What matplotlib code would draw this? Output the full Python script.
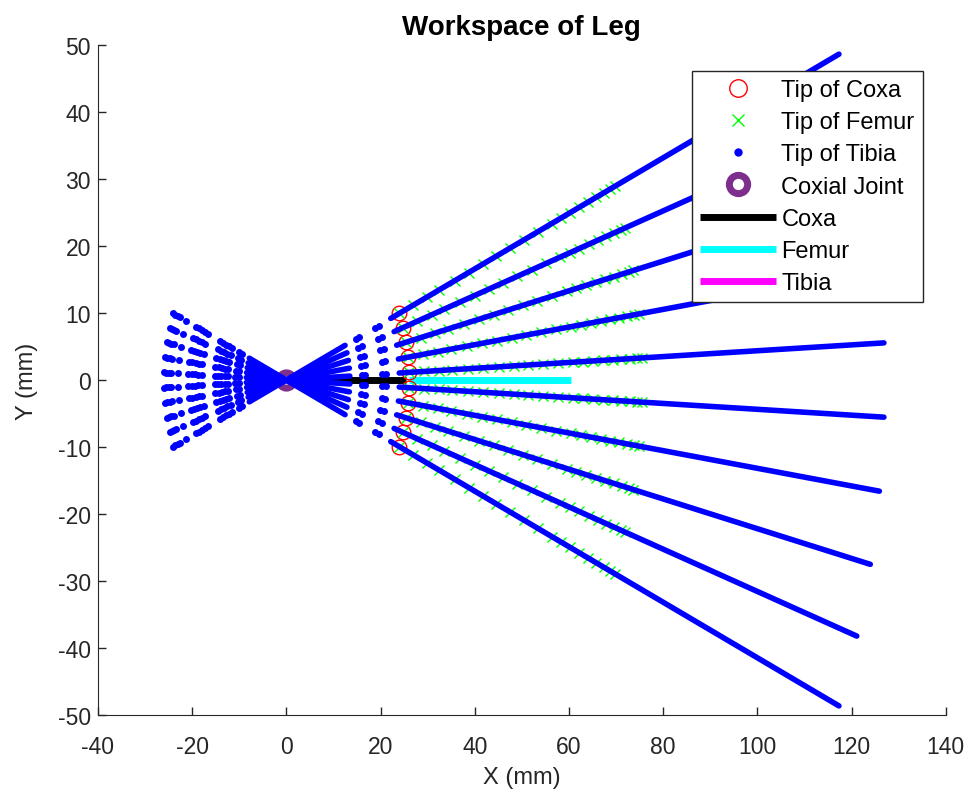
import numpy as np
import matplotlib
matplotlib.use("Agg")
import matplotlib.pyplot as plt

plt.rcParams['font.family'] = ['Liberation Sans', 'DejaVu Sans']
plt.rcParams['axes.unicode_minus'] = False

# coxa angles of the sampled leg poses (deg)
coxa_angles = [-22.5, -17.5, -12.5, -7.5, -2.5, 2.5, 7.5, 12.5, 17.5, 22.5]

# radial distances (mm)
coxa_tip_radius = 26.0
femur_tip_radii = [26.0, 29.2, 32.4, 35.2, 38.7, 41.9, 45.1, 48.3, 51.4, 54.6,
                   57.8, 61.0, 63.1, 65.2, 67.3, 69.4, 71.2, 73.0, 74.5, 75.5]
tibia_tip_spans = [(-8.5, 13.5), (24.0, 127.0)]
tibia_tip_radii = [-26.0, -25.5, -25.0, -24.5, -23.0,
                   -20.8, -20.1, -19.4, -18.7, -18.0,
                   -15.2, -14.5, -13.8, -13.1, -12.4,
                   -10.8, -10.1,
                   16.0, 16.8, 20.4, 21.2]

# current pose segments (x, y)
coxa_x, coxa_y = [0.0, 25.5], [0.0, 0.0]
femur_x, femur_y = [26.0, 60.5], [0.0, 0.0]
tibia_x, tibia_y = [60.5, 60.5], [0.0, 0.0]

purple = (0.494, 0.184, 0.556)
ang = np.radians(coxa_angles)

fig = plt.figure(figsize=(9.79, 8.03), dpi=100)
ax = fig.add_axes([0.100, 0.108, 0.866, 0.835])

# segments of the leg (drawn first, under the tip clouds)
h_coxa, = ax.plot(coxa_x, coxa_y, color='black', lw=5, solid_capstyle='butt', label='Coxa')
h_fem, = ax.plot(femur_x, femur_y, color='cyan', lw=5, solid_capstyle='butt', label='Femur')
h_tib, = ax.plot(tibia_x, tibia_y, color='magenta', lw=5, solid_capstyle='butt', label='Tibia')

# tip of coxa
h_ctip, = ax.plot(coxa_tip_radius * np.cos(ang), coxa_tip_radius * np.sin(ang), 'o',
                  mec='red', mfc='none', ms=10.5, mew=1, label='Tip of Coxa')

# tip of femur
fr = np.array(femur_tip_radii)
fx = np.outer(np.cos(ang), fr).ravel()
fy = np.outer(np.sin(ang), fr).ravel()
h_ftip, = ax.plot(fx, fy, 'x', color=(0, 1, 0), ms=7, mew=1, label='Tip of Femur')

# coxial joint
h_joint, = ax.plot([0], [0], 'o', mec=purple, mfc='none', ms=11, mew=5, label='Coxial Joint')

# tip of tibia
for a in ang:
    for r0, r1 in tibia_tip_spans:
        ax.plot([r0 * np.cos(a), r1 * np.cos(a)], [r0 * np.sin(a), r1 * np.sin(a)],
                color='blue', lw=4, solid_capstyle='round')
tr = np.array(tibia_tip_radii)
h_ttip, = ax.plot(np.outer(np.cos(ang), tr).ravel(), np.outer(np.sin(ang), tr).ravel(),
                  '.', color='blue', ms=10, mew=0, label='Tip of Tibia')

ax.set_xlim(-40, 140)
ax.set_ylim(-50, 50)
ax.set_xticks(range(-40, 141, 20))
ax.set_yticks(range(-50, 51, 10))
for s in ['top', 'right']:
    ax.spines[s].set_visible(False)
for s in ['left', 'bottom']:
    ax.spines[s].set_color('#262626')
ax.tick_params(direction='in', length=6, width=1, colors='#262626', labelsize=16.5)
ax.tick_params(axis='x', pad=14)
ax.tick_params(axis='y', pad=5)
ax.set_xlabel('X (mm)', fontsize=17, color='#262626', labelpad=6)
ax.set_ylabel('Y (mm)', fontsize=17, color='#262626', labelpad=14)
ax.set_title('Workspace of Leg', fontsize=20, fontweight='bold', pad=8)

leg = ax.legend([h_ctip, h_ftip, h_ttip, h_joint, h_coxa, h_fem, h_tib],
                ['Tip of Coxa', 'Tip of Femur', 'Tip of Tibia', 'Coxial Joint', 'Coxa', 'Femur', 'Tibia'],
                loc='upper right', bbox_to_anchor=(0.973, 0.961), borderaxespad=0,
                fontsize=17, fancybox=False, framealpha=1, edgecolor='#262626',
                handlelength=3.2, handletextpad=0.25, labelspacing=0.43, borderpad=0.35,
                markerscale=1.2)
leg.get_frame().set_linewidth(1)

fig.savefig('out.png', dpi=100)
